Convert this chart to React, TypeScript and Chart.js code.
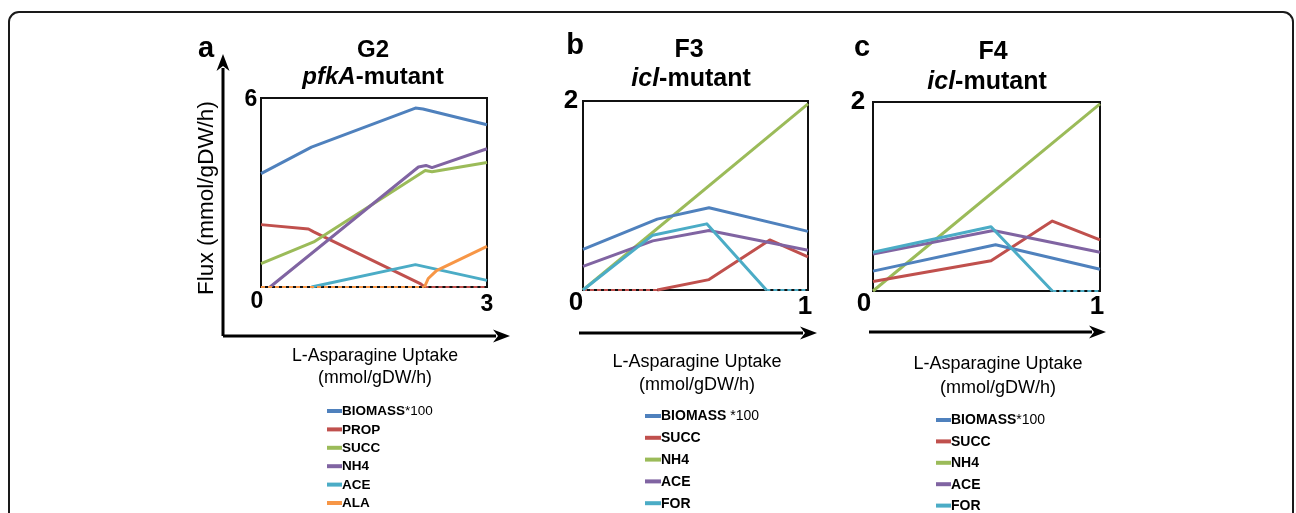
import React, { useEffect, useRef } from "react";
import { Chart, registerables } from "chart.js";
Chart.register(...registerables);

type Pt = [number, number];

const FONT = '"Liberation Sans", Arial, Helvetica, sans-serif';

// ---------- colours ----------
const BLUE = "#4F81BD";
const RED = "#C0504D";
const GREEN = "#9BBB59";
const PURPLE = "#8064A2";
const CYAN = "#4BACC6";
const ORANGE = "#F79646";

// ---------- panel a : G2 pfkA-mutant ----------
const aNames = ["BIOMASS", "PROP", "SUCC", "NH4", "ACE", "ALA"];
const aColors = [BLUE, RED, GREEN, PURPLE, CYAN, ORANGE];
const aTickLabels = ["0", "3", "6"]; // origin, x max, y max
const aBiomass: Pt[] = [[0, 3.6], [0.67, 4.44], [2.05, 5.68], [2.15, 5.65], [3, 5.15]];
const aProp: Pt[] = [[0, 1.98], [0.63, 1.84], [0.7, 1.75], [2.12, 0.1], [2.17, 0], [3, 0]];
const aSucc: Pt[] = [[0, 0.74], [0.7, 1.43], [2.18, 3.7], [2.27, 3.66], [3, 3.95]];
const aNh4: Pt[] = [[0, 0], [0.12, 0], [2.09, 3.81], [2.19, 3.86], [2.27, 3.79], [3, 4.39]];
const aAce: Pt[] = [[0, 0], [0.67, 0], [2.05, 0.71], [3, 0.21]];
const aAla: Pt[] = [[0, 0], [2.17, 0], [2.22, 0.27], [2.33, 0.52], [3, 1.29]];

// ---------- panel b : F3 icl-mutant ----------
const bNames = ["BIOMASS", "SUCC", "NH4", "ACE", "FOR"];
const bColors = [BLUE, RED, GREEN, PURPLE, CYAN];
const bTickLabels = ["0", "1", "2"];
const bBiomass: Pt[] = [[0, 0.43], [0.33, 0.75], [0.56, 0.87], [1, 0.62]];
const bSucc: Pt[] = [[0, 0], [0.33, 0], [0.56, 0.11], [0.83, 0.53], [1, 0.35]];
const bNh4: Pt[] = [[0, 0], [1, 1.97]];
const bAce: Pt[] = [[0, 0.25], [0.31, 0.52], [0.56, 0.63], [1, 0.42]];
const bFor: Pt[] = [[0, 0], [0.31, 0.58], [0.55, 0.7], [0.815, 0], [1, 0]];

// ---------- panel c : F4 icl-mutant ----------
const cNames = ["BIOMASS", "SUCC", "NH4", "ACE", "FOR"];
const cColors = [BLUE, RED, GREEN, PURPLE, CYAN];
const cTickLabels = ["0", "1", "2"];
const cBiomass: Pt[] = [[0, 0.21], [0.54, 0.49], [1, 0.23]];
const cSucc: Pt[] = [[0, 0.1], [0.52, 0.32], [0.79, 0.74], [1, 0.54]];
const cNh4: Pt[] = [[0, 0], [1, 1.98]];
const cAce: Pt[] = [[0, 0.39], [0.53, 0.64], [1, 0.41]];
const cFor: Pt[] = [[0, 0.41], [0.52, 0.68], [0.79, 0], [1, 0]];

const X_LABEL = ["L-Asparagine Uptake", "(mmol/gDW/h)"];
const Y_LABEL = "Flux (mmol/gDW/h)";

interface PanelCfg {
  canvas: [number, number, number, number];
  padding: { left: number; top: number; right: number; bottom: number };
  xMax: number;
  yMax: number;
  names: string[];
  colors: string[];
  series: Pt[][];
  drawOrder: number[];
  letter: string;
  letterPos: [number, number];
  letterSize: number;
  title: string;
  titlePos: [number, number];
  subItalic: string;
  subRest: string;
  subPos: [number, number];
  titleSize: number;
  tickLabels: string[];
  tickSize: number;
  tickOff: { origin: [number, number]; xmax: [number, number]; ymax: [number, number] };
  hArrow: [number, number, number];
  vArrow?: [number, number, number];
  xLabelPos: [number, number, number];
  xLabelSize: number;
  yLabelPos?: [number, number];
  yLabelSize?: number;
  legend: { x0: number; x1: number; y0: number; dy: number; size: number; suffix: string };
}

const panels: PanelCfg[] = [
  {
    canvas: [170, 20, 360, 493],
    padding: { left: 91, top: 78, right: 43, bottom: 226 },
    xMax: 3,
    yMax: 6,
    names: aNames,
    colors: aColors,
    series: [aBiomass, aProp, aSucc, aNh4, aAce, aAla],
    drawOrder: [0, 5, 3, 2, 4, 1],
    letter: "a",
    letterPos: [206, 49],
    letterSize: 29,
    title: "G2",
    titlePos: [373, 50],
    subItalic: "pfkA",
    subRest: "-mutant",
    subPos: [373, 77],
    titleSize: 24,
    tickLabels: aTickLabels,
    tickSize: 23,
    tickOff: { origin: [-4, 15], xmax: [0, 18], ymax: [-10, 2] },
    hArrow: [223, 510, 336],
    vArrow: [223, 336, 54],
    xLabelPos: [375, 356, 378],
    xLabelSize: 17.7,
    yLabelPos: [207, 198],
    yLabelSize: 22.5,
    legend: { x0: 327, x1: 342, y0: 411, dy: 18.4, size: 13.5, suffix: "*100" },
  },
  {
    canvas: [545, 20, 290, 493],
    padding: { left: 38, top: 81, right: 27, bottom: 223 },
    xMax: 1,
    yMax: 2,
    names: bNames,
    colors: bColors,
    series: [bBiomass, bSucc, bNh4, bAce, bFor],
    drawOrder: [0, 4, 3, 1, 2],
    letter: "b",
    letterPos: [575, 46],
    letterSize: 29,
    title: "F3",
    titlePos: [689, 50],
    subItalic: "icl",
    subRest: "-mutant",
    subPos: [691, 79],
    titleSize: 25,
    tickLabels: bTickLabels,
    tickSize: 26,
    tickOff: { origin: [-7, 13], xmax: [-3, 17], ymax: [-12, 0] },
    hArrow: [579, 817, 333],
    xLabelPos: [697, 362, 385],
    xLabelSize: 18,
    legend: { x0: 645, x1: 661, y0: 416, dy: 21.8, size: 14, suffix: " *100" },
  },
  {
    canvas: [840, 20, 290, 493],
    padding: { left: 33, top: 82, right: 30, bottom: 222 },
    xMax: 1,
    yMax: 2,
    names: cNames,
    colors: cColors,
    series: [cBiomass, cSucc, cNh4, cAce, cFor],
    drawOrder: [4, 3, 0, 1, 2],
    letter: "c",
    letterPos: [862, 48],
    letterSize: 29,
    title: "F4",
    titlePos: [993, 52],
    subItalic: "icl",
    subRest: "-mutant",
    subPos: [987, 82],
    titleSize: 25,
    tickLabels: cTickLabels,
    tickSize: 26,
    tickOff: { origin: [-9, 13], xmax: [-3, 16], ymax: [-15, 0] },
    hArrow: [869, 1106, 332],
    xLabelPos: [998, 364, 388],
    xLabelSize: 18,
    legend: { x0: 936, x1: 951, y0: 420, dy: 21.4, size: 14, suffix: "*100" },
  },
];

function drawArrow(ctx: CanvasRenderingContext2D, x0: number, y0: number, x1: number, y1: number) {
  const head = 17;
  const half = 6.5;
  const len = Math.hypot(x1 - x0, y1 - y0);
  const ux = (x1 - x0) / len;
  const uy = (y1 - y0) / len;
  const bx = x1 - ux * head;
  const by = y1 - uy * head;
  ctx.save();
  ctx.strokeStyle = "#000";
  ctx.fillStyle = "#000";
  ctx.lineWidth = 3;
  ctx.beginPath();
  ctx.moveTo(x0, y0);
  ctx.lineTo(bx + ux * 3, by + uy * 3);
  ctx.stroke();
  ctx.beginPath();
  ctx.moveTo(x1, y1);
  ctx.lineTo(bx - uy * half, by + ux * half);
  ctx.lineTo(bx + ux * 5, by + uy * 5);
  ctx.lineTo(bx + uy * half, by - ux * half);
  ctx.closePath();
  ctx.fill();
  ctx.restore();
}

function makeDecor(cfg: PanelCfg) {
  return {
    id: "decor",
    beforeDatasetsDraw(chart: any) {
      const { ctx, chartArea: a } = chart;
      ctx.save();
      ctx.strokeStyle = "#111";
      ctx.lineWidth = 2;
      ctx.strokeRect(a.left, a.top, a.right - a.left, a.bottom - a.top);
      ctx.restore();
    },
    afterDraw(chart: any) {
      const ctx: CanvasRenderingContext2D = chart.ctx;
      const xs = chart.scales.x;
      const ys = chart.scales.y;
      ctx.save();
      ctx.translate(-cfg.canvas[0], -cfg.canvas[1]);
      const ox = cfg.canvas[0];
      const oy = cfg.canvas[1];
      const px = (v: number) => xs.getPixelForValue(v) + ox;
      const py = (v: number) => ys.getPixelForValue(v) + oy;
      ctx.fillStyle = "#000";
      ctx.textBaseline = "middle";
      ctx.textAlign = "center";

      // tick labels
      ctx.font = `bold ${cfg.tickSize}px ${FONT}`;
      ctx.fillText(cfg.tickLabels[0], px(0) + cfg.tickOff.origin[0], py(0) + cfg.tickOff.origin[1]);
      ctx.fillText(cfg.tickLabels[1], px(cfg.xMax) + cfg.tickOff.xmax[0], py(0) + cfg.tickOff.xmax[1]);
      ctx.fillText(cfg.tickLabels[2], px(0) + cfg.tickOff.ymax[0], py(cfg.yMax) + cfg.tickOff.ymax[1]);

      // panel letter
      ctx.font = `bold ${cfg.letterSize}px ${FONT}`;
      ctx.fillText(cfg.letter, cfg.letterPos[0], cfg.letterPos[1]);

      // titles
      ctx.font = `bold ${cfg.titleSize}px ${FONT}`;
      ctx.fillText(cfg.title, cfg.titlePos[0], cfg.titlePos[1]);
      const itFont = `italic bold ${cfg.titleSize}px ${FONT}`;
      const bFont = `bold ${cfg.titleSize}px ${FONT}`;
      ctx.font = itFont;
      const w1 = ctx.measureText(cfg.subItalic).width;
      ctx.font = bFont;
      const w2 = ctx.measureText(cfg.subRest).width;
      const sx = cfg.subPos[0] - (w1 + w2) / 2;
      ctx.textAlign = "left";
      ctx.font = itFont;
      ctx.fillText(cfg.subItalic, sx, cfg.subPos[1]);
      ctx.font = bFont;
      ctx.fillText(cfg.subRest, sx + w1, cfg.subPos[1]);

      // arrows
      drawArrow(ctx, cfg.hArrow[0], cfg.hArrow[2], cfg.hArrow[1], cfg.hArrow[2]);
      if (cfg.vArrow) drawArrow(ctx, cfg.vArrow[0], cfg.vArrow[1], cfg.vArrow[0], cfg.vArrow[2]);

      // axis labels
      ctx.textAlign = "center";
      ctx.font = `${cfg.xLabelSize}px ${FONT}`;
      ctx.fillText(X_LABEL[0], cfg.xLabelPos[0], cfg.xLabelPos[1]);
      ctx.fillText(X_LABEL[1], cfg.xLabelPos[0], cfg.xLabelPos[2]);
      if (cfg.yLabelPos) {
        ctx.save();
        ctx.translate(cfg.yLabelPos[0], cfg.yLabelPos[1]);
        ctx.rotate(-Math.PI / 2);
        ctx.font = `${cfg.yLabelSize}px ${FONT}`;
        ctx.fillText(Y_LABEL, 0, 0);
        ctx.restore();
      }

      // legend
      const lg = cfg.legend;
      cfg.names.forEach((name, i) => {
        const y = lg.y0 + i * lg.dy;
        ctx.strokeStyle = cfg.colors[i];
        ctx.lineWidth = 4;
        ctx.beginPath();
        ctx.moveTo(lg.x0, y);
        ctx.lineTo(lg.x1, y);
        ctx.stroke();
        ctx.textAlign = "left";
        ctx.fillStyle = "#000";
        ctx.font = `bold ${lg.size}px ${FONT}`;
        ctx.fillText(name, lg.x1, y + 0.5);
        if (i === 0) {
          const w = ctx.measureText(name).width;
          ctx.font = `${lg.size}px ${FONT}`;
          ctx.fillText(lg.suffix, lg.x1 + w, y + 0.5);
        }
      });
      ctx.restore();
    },
  };
}

function Panel({ cfg }: { cfg: PanelCfg }) {
  const ref = useRef<HTMLCanvasElement | null>(null);
  useEffect(() => {
    if (!ref.current) return;
    const datasets = cfg.series.map((pts, i) => ({
      label: cfg.names[i],
      data: pts.map(([x, y]) => ({ x, y })),
      borderColor: cfg.colors[i],
      backgroundColor: cfg.colors[i],
      borderWidth: 3,
      pointRadius: 0,
      tension: 0,
      fill: false,
      clip: false as any,
      order: cfg.drawOrder.indexOf(i),
      borderJoinStyle: "round" as const,
      segment: {
        borderDash: (c: any) => (c.p0.parsed.y === 0 && c.p1.parsed.y === 0 ? [4, 3] : undefined),
        borderWidth: (c: any) => (c.p0.parsed.y === 0 && c.p1.parsed.y === 0 ? 2 : undefined),
      },
    }));
    const chart = new Chart(ref.current, {
      type: "line",
      data: { datasets },
      options: {
        responsive: false,
        animation: false,
        maintainAspectRatio: false,
        layout: { padding: cfg.padding },
        scales: {
          x: { type: "linear", min: 0, max: cfg.xMax, display: false },
          y: { type: "linear", min: 0, max: cfg.yMax, display: false },
        },
        plugins: { legend: { display: false }, tooltip: { enabled: false } },
      },
      plugins: [makeDecor(cfg) as any],
    });
    return () => chart.destroy();
  }, [cfg]);
  return (
    <canvas
      ref={ref}
      width={cfg.canvas[2]}
      height={cfg.canvas[3]}
      style={{
        position: "absolute",
        left: cfg.canvas[0],
        top: cfg.canvas[1],
        width: cfg.canvas[2],
        height: cfg.canvas[3],
      }}
    />
  );
}

export default function App() {
  return (
    <div
      style={{
        position: "absolute",
        left: 0,
        top: 0,
        width: 1296,
        height: 513,
        overflow: "hidden",
        background: "#fff",
      }}
    >
      <div
        style={{
          position: "absolute",
          left: 8,
          top: 11,
          width: 1286,
          height: 540,
          border: "2px solid #1a1a1a",
          borderRadius: 11,
          boxSizing: "border-box",
        }}
      />
      {panels.map((p, i) => (
        <Panel key={i} cfg={p} />
      ))}
    </div>
  );
}
